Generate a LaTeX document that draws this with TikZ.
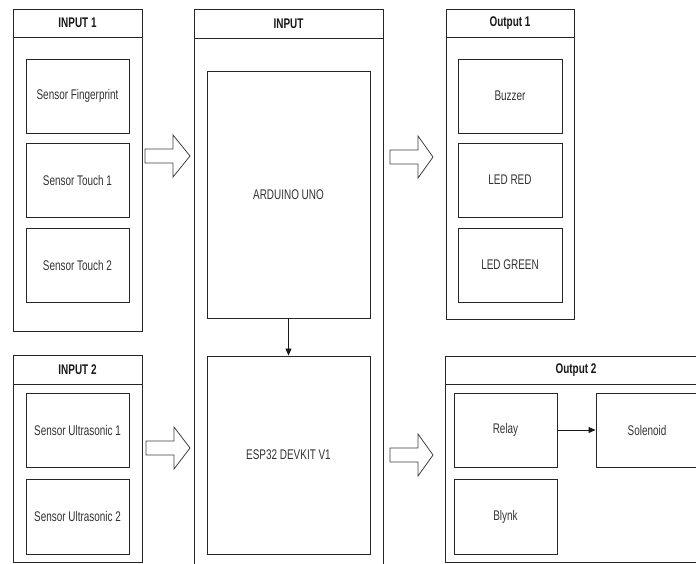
\documentclass[tikz,border=0pt]{standalone}
\usepackage{fontspec}
\setmainfont{Liberation Sans}[FakeStretch=0.71]
\usetikzlibrary{arrows.meta}
\begin{document}
\begin{tikzpicture}[x=1pt,y=-1pt,
  lw/.style={line width=0.9pt, draw=black!85},
  box/.style={lw, rectangle, inner sep=0pt, font=\fontsize{14}{16}\selectfont, text=black!80},
  ttl/.style={inner sep=0pt, font=\fontsize{14}{16}\selectfont\bfseries, text=black!90},
  blk/.style={line width=0.8pt, draw=black!75, fill=white, line join=miter},
  conn/.style={line width=0.8pt, draw=black!90, -{Triangle[length=7pt,width=6pt]}}
]
\useasboundingbox (0,0) rectangle (696,563);
\clip (0,0) rectangle (696,563);
\fill[white] (0,0) rectangle (696,563);

% ---------- INPUT 1 ----------
\draw[lw] (13,9) rectangle (142,331);
\draw[lw] (13,37) -- (142,37);
\node[ttl] (t1) at (77.5,23) {INPUT 1};
\node[box, minimum width=103, minimum height=74] (fp) at (77.5,96) {Sensor Fingerprint};
\node[box, minimum width=103, minimum height=74] (st1) at (77.5,180) {Sensor Touch 1};
\node[box, minimum width=103, minimum height=74] (st2) at (77.5,265) {Sensor Touch 2};

% ---------- INPUT 2 ----------
\draw[lw] (13,355) rectangle (142,562);
\draw[lw] (13,384) -- (142,384);
\node[ttl] (t2) at (77.5,369.5) {INPUT 2};
\node[box, minimum width=103, minimum height=74] (us1) at (77.5,430) {Sensor Ultrasonic 1};
\node[box, minimum width=103, minimum height=75] (us2) at (77.5,516.5) {Sensor Ultrasonic 2};

% ---------- INPUT (centre) ----------
\draw[lw] (194,575) -- (194,9) -- (383,9) -- (383,575);
\draw[lw] (194,38) -- (383,38);
\node[ttl] (t3) at (288.5,23.5) {INPUT};
\node[box, minimum width=163, minimum height=247] (ard) at (288.5,194.5) {ARDUINO UNO};
\node[box, minimum width=163, minimum height=198] (esp) at (288.5,455) {ESP32 DEVKIT V1};
\draw[conn] (ard.south) -- (esp.north);

% ---------- Output 1 ----------
\draw[lw] (446,9) rectangle (574,319);
\draw[lw] (446,37) -- (574,37);
\node[ttl] (t4) at (510,23) {Output 1};
\node[box, minimum width=104, minimum height=74] (buz) at (510,96) {Buzzer};
\node[box, minimum width=104, minimum height=74] (red) at (510,180) {LED RED};
\node[box, minimum width=104, minimum height=74] (grn) at (510,265) {LED GREEN};

% ---------- Output 2 ----------
\draw[lw] (445,356) rectangle (707,562);
\draw[lw] (445,384) -- (707,384);
\node[ttl] (t5) at (576,370) {Output 2};
\node[box, minimum width=103, minimum height=74] (rel) at (505.5,430) {Relay};
\node[box, minimum width=102, minimum height=74] (sol) at (647,430) {Solenoid};
\node[box, minimum width=103, minimum height=75] (bly) at (505.5,516.5) {Blynk};
\draw[conn] (rel.east) -- (sol.west);

% ---------- block arrows ----------
\newcommand\blockarrow[3]{%
  \draw[blk] (#1,#2-7) -- ++(28,0) -- ++(0,-14) -- (#1+#3,#2) -- (#1+28,#2+21) -- ++(0,-14) -- (#1,#2+7) -- cycle;}
\blockarrow{145}{156}{45}
\blockarrow{146}{448}{44}
\blockarrow{390}{157}{43}
\blockarrow{390}{455}{43}
\end{tikzpicture}
\end{document}
